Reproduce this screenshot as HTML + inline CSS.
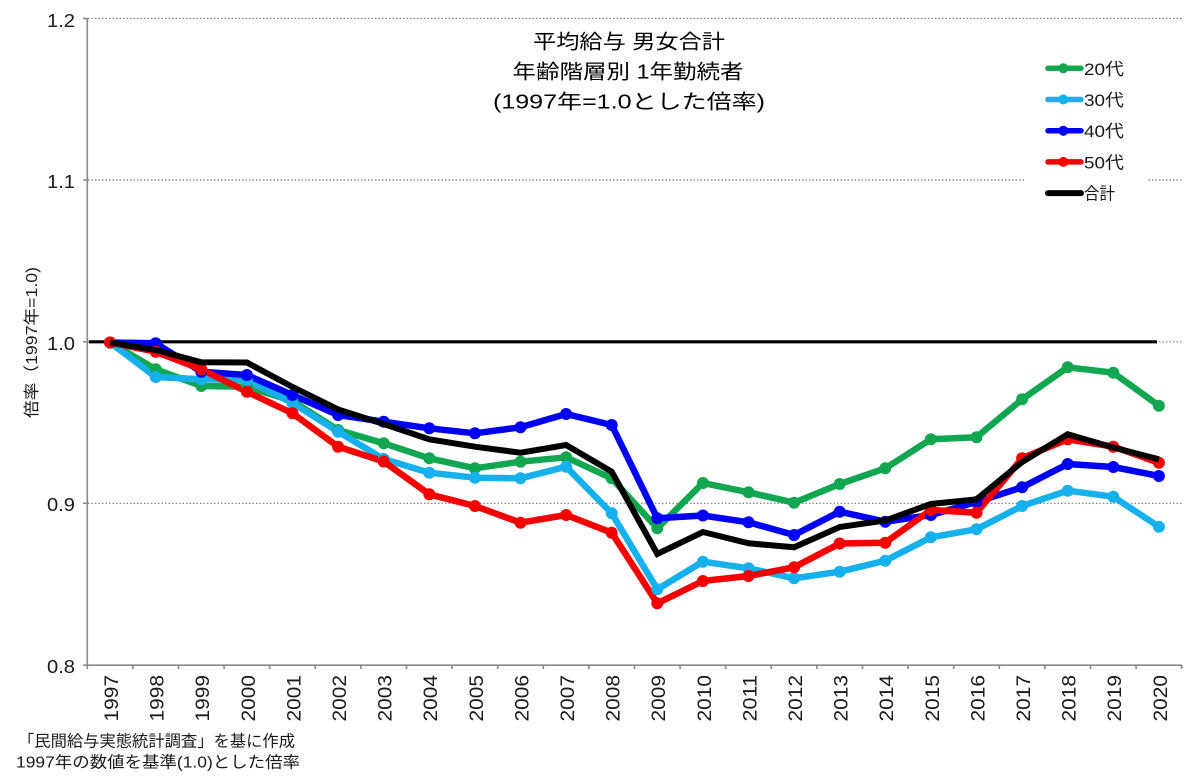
<!DOCTYPE html>
<html><head><meta charset="utf-8"><style>
html,body{margin:0;padding:0;background:#fff;}
svg{display:block;}
text{font-family:"Liberation Sans","Noto Sans CJK JP",sans-serif;fill:#1a1a1a;}
</style></head><body>
<svg width="1200" height="783" viewBox="0 0 1200 783" xmlns="http://www.w3.org/2000/svg">
<rect width="1200" height="783" fill="#fff"/>
<!-- gridlines -->
<g stroke="#777" stroke-width="1.2" stroke-dasharray="1.5 2">
<line x1="88" y1="18.5" x2="1182" y2="18.5"/>
<line x1="88" y1="180" x2="1182" y2="180"/>
<line x1="88" y1="341.8" x2="1182" y2="341.8"/>
<line x1="88" y1="503.3" x2="1182" y2="503.3"/>
</g>
<!-- axes -->
<g stroke="#8a8a8a" stroke-width="1.6" fill="none">
<line x1="87.3" y1="18" x2="87.3" y2="666"/>
<line x1="86.5" y1="665.2" x2="1182" y2="665.2"/>
<line x1="83" y1="18.5" x2="87.3" y2="18.5"/>
<line x1="83" y1="180" x2="87.3" y2="180"/>
<line x1="83" y1="341.8" x2="87.3" y2="341.8"/>
<line x1="83" y1="503.3" x2="87.3" y2="503.3"/>
<line x1="83" y1="665.2" x2="87.3" y2="665.2"/>
<path d="M87.3 665v4 M132.9 665v4 M178.5 665v4 M224.1 665v4 M269.7 665v4 M315.3 665v4 M360.9 665v4 M406.5 665v4 M452.1 665v4 M497.7 665v4 M543.3 665v4 M588.9 665v4 M634.5 665v4 M680.1 665v4 M725.7 665v4 M771.3 665v4 M816.9 665v4 M862.5 665v4 M908.1 665v4 M953.7 665v4 M999.3 665v4 M1044.9 665v4 M1090.5 665v4 M1136.1 665v4 M1181.7 665v4"/>
</g>
<!-- y tick labels -->
<g font-size="18" text-anchor="end">
<text x="75" y="27" textLength="28" lengthAdjust="spacingAndGlyphs">1.2</text>
<text x="75" y="188" textLength="28" lengthAdjust="spacingAndGlyphs">1.1</text>
<text x="75" y="350" textLength="28" lengthAdjust="spacingAndGlyphs">1.0</text>
<text x="75" y="511" textLength="28" lengthAdjust="spacingAndGlyphs">0.9</text>
<text x="75" y="673" textLength="28" lengthAdjust="spacingAndGlyphs">0.8</text>
</g>
<!-- y axis title -->
<text transform="translate(37,418) rotate(-90)" font-size="16" textLength="151" lengthAdjust="spacingAndGlyphs">倍率（1997年=1.0)</text>
<!-- x labels -->
<g font-size="19">
<text transform="translate(118,721.5) rotate(-90)" textLength="46.5" lengthAdjust="spacingAndGlyphs">1997</text>
<text transform="translate(163.6,721.5) rotate(-90)" textLength="46.5" lengthAdjust="spacingAndGlyphs">1998</text>
<text transform="translate(209.2,721.5) rotate(-90)" textLength="46.5" lengthAdjust="spacingAndGlyphs">1999</text>
<text transform="translate(254.8,721.5) rotate(-90)" textLength="46.5" lengthAdjust="spacingAndGlyphs">2000</text>
<text transform="translate(300.4,721.5) rotate(-90)" textLength="46.5" lengthAdjust="spacingAndGlyphs">2001</text>
<text transform="translate(346,721.5) rotate(-90)" textLength="46.5" lengthAdjust="spacingAndGlyphs">2002</text>
<text transform="translate(391.6,721.5) rotate(-90)" textLength="46.5" lengthAdjust="spacingAndGlyphs">2003</text>
<text transform="translate(437.2,721.5) rotate(-90)" textLength="46.5" lengthAdjust="spacingAndGlyphs">2004</text>
<text transform="translate(482.8,721.5) rotate(-90)" textLength="46.5" lengthAdjust="spacingAndGlyphs">2005</text>
<text transform="translate(528.4,721.5) rotate(-90)" textLength="46.5" lengthAdjust="spacingAndGlyphs">2006</text>
<text transform="translate(574,721.5) rotate(-90)" textLength="46.5" lengthAdjust="spacingAndGlyphs">2007</text>
<text transform="translate(619.6,721.5) rotate(-90)" textLength="46.5" lengthAdjust="spacingAndGlyphs">2008</text>
<text transform="translate(665.2,721.5) rotate(-90)" textLength="46.5" lengthAdjust="spacingAndGlyphs">2009</text>
<text transform="translate(710.8,721.5) rotate(-90)" textLength="46.5" lengthAdjust="spacingAndGlyphs">2010</text>
<text transform="translate(756.4,721.5) rotate(-90)" textLength="46.5" lengthAdjust="spacingAndGlyphs">2011</text>
<text transform="translate(802,721.5) rotate(-90)" textLength="46.5" lengthAdjust="spacingAndGlyphs">2012</text>
<text transform="translate(847.6,721.5) rotate(-90)" textLength="46.5" lengthAdjust="spacingAndGlyphs">2013</text>
<text transform="translate(893.2,721.5) rotate(-90)" textLength="46.5" lengthAdjust="spacingAndGlyphs">2014</text>
<text transform="translate(938.8,721.5) rotate(-90)" textLength="46.5" lengthAdjust="spacingAndGlyphs">2015</text>
<text transform="translate(984.4,721.5) rotate(-90)" textLength="46.5" lengthAdjust="spacingAndGlyphs">2016</text>
<text transform="translate(1030,721.5) rotate(-90)" textLength="46.5" lengthAdjust="spacingAndGlyphs">2017</text>
<text transform="translate(1075.6,721.5) rotate(-90)" textLength="46.5" lengthAdjust="spacingAndGlyphs">2018</text>
<text transform="translate(1121.2,721.5) rotate(-90)" textLength="46.5" lengthAdjust="spacingAndGlyphs">2019</text>
<text transform="translate(1166.8,721.5) rotate(-90)" textLength="46.5" lengthAdjust="spacingAndGlyphs">2020</text>
</g>
<!-- 1.0 reference line -->
<line x1="89" y1="341.8" x2="1157" y2="341.8" stroke="#000" stroke-width="3.2"/>
<!-- series -->
<g fill="none" stroke-width="6.5" stroke-linejoin="round" stroke-linecap="round">
<polyline stroke="#12a651" points="110.1,342.5 155.7,369.3 201.3,386 246.9,386.7 292.5,401 338.1,430 383.7,443.3 429.3,458.3 474.9,468.3 520.5,461.7 566.1,457.3 611.7,478.3 657.3,528.3 702.9,483 748.5,492.3 794.1,502.7 839.7,484 885.3,468.3 930.9,439.3 976.5,437.3 1022.1,399.3 1067.7,367.3 1113.3,372.7 1158.9,405.7"/>
<polyline stroke="#16b0ec" points="110.1,342.5 155.7,377 201.3,379.3 246.9,380 292.5,403 338.1,431.7 383.7,459 429.3,472.7 474.9,477.7 520.5,478.3 566.1,466.7 611.7,513.3 657.3,589.3 702.9,561.7 748.5,568.3 794.1,578.3 839.7,571.7 885.3,560.7 930.9,537.3 976.5,529.3 1022.1,506 1067.7,490.7 1113.3,496.7 1158.9,526.7"/>
<polyline stroke="#0000f5" points="110.1,342.5 155.7,343.3 201.3,371.7 246.9,375 292.5,395 338.1,415 383.7,421.7 429.3,428.3 474.9,433.3 520.5,427.3 566.1,414 611.7,425 657.3,518.3 702.9,515.5 748.5,522.3 794.1,535 839.7,511.7 885.3,521.7 930.9,515 976.5,502 1022.1,487.3 1067.7,464 1113.3,467 1158.9,476"/>
<polyline stroke="#f50000" points="110.1,342.5 155.7,351.7 201.3,369.3 246.9,391.7 292.5,413.3 338.1,446.7 383.7,461.5 429.3,494.3 474.9,506 520.5,522.7 566.1,515 611.7,532.7 657.3,603.3 702.9,581 748.5,576 794.1,567.3 839.7,543.5 885.3,542.7 930.9,510 976.5,512.7 1022.1,458.3 1067.7,439.3 1113.3,446.7 1158.9,462.7"/>
</g>
<g fill="#12a651">
<circle cx="110.1" cy="342.5" r="6"/><circle cx="155.7" cy="369.3" r="6"/><circle cx="201.3" cy="386" r="6"/><circle cx="246.9" cy="386.7" r="6"/><circle cx="292.5" cy="401" r="6"/><circle cx="338.1" cy="430" r="6"/><circle cx="383.7" cy="443.3" r="6"/><circle cx="429.3" cy="458.3" r="6"/><circle cx="474.9" cy="468.3" r="6"/><circle cx="520.5" cy="461.7" r="6"/><circle cx="566.1" cy="457.3" r="6"/><circle cx="611.7" cy="478.3" r="6"/><circle cx="657.3" cy="528.3" r="6"/><circle cx="702.9" cy="483" r="6"/><circle cx="748.5" cy="492.3" r="6"/><circle cx="794.1" cy="502.7" r="6"/><circle cx="839.7" cy="484" r="6"/><circle cx="885.3" cy="468.3" r="6"/><circle cx="930.9" cy="439.3" r="6"/><circle cx="976.5" cy="437.3" r="6"/><circle cx="1022.1" cy="399.3" r="6"/><circle cx="1067.7" cy="367.3" r="6"/><circle cx="1113.3" cy="372.7" r="6"/><circle cx="1158.9" cy="405.7" r="6"/>
</g>
<g fill="#16b0ec">
<circle cx="110.1" cy="342.5" r="6"/><circle cx="155.7" cy="377" r="6"/><circle cx="201.3" cy="379.3" r="6"/><circle cx="246.9" cy="380" r="6"/><circle cx="292.5" cy="403" r="6"/><circle cx="338.1" cy="431.7" r="6"/><circle cx="383.7" cy="459" r="6"/><circle cx="429.3" cy="472.7" r="6"/><circle cx="474.9" cy="477.7" r="6"/><circle cx="520.5" cy="478.3" r="6"/><circle cx="566.1" cy="466.7" r="6"/><circle cx="611.7" cy="513.3" r="6"/><circle cx="657.3" cy="589.3" r="6"/><circle cx="702.9" cy="561.7" r="6"/><circle cx="748.5" cy="568.3" r="6"/><circle cx="794.1" cy="578.3" r="6"/><circle cx="839.7" cy="571.7" r="6"/><circle cx="885.3" cy="560.7" r="6"/><circle cx="930.9" cy="537.3" r="6"/><circle cx="976.5" cy="529.3" r="6"/><circle cx="1022.1" cy="506" r="6"/><circle cx="1067.7" cy="490.7" r="6"/><circle cx="1113.3" cy="496.7" r="6"/><circle cx="1158.9" cy="526.7" r="6"/>
</g>
<g fill="#0000f5">
<circle cx="110.1" cy="342.5" r="6"/><circle cx="155.7" cy="343.3" r="6"/><circle cx="201.3" cy="371.7" r="6"/><circle cx="246.9" cy="375" r="6"/><circle cx="292.5" cy="395" r="6"/><circle cx="338.1" cy="415" r="6"/><circle cx="383.7" cy="421.7" r="6"/><circle cx="429.3" cy="428.3" r="6"/><circle cx="474.9" cy="433.3" r="6"/><circle cx="520.5" cy="427.3" r="6"/><circle cx="566.1" cy="414" r="6"/><circle cx="611.7" cy="425" r="6"/><circle cx="657.3" cy="518.3" r="6"/><circle cx="702.9" cy="515.5" r="6"/><circle cx="748.5" cy="522.3" r="6"/><circle cx="794.1" cy="535" r="6"/><circle cx="839.7" cy="511.7" r="6"/><circle cx="885.3" cy="521.7" r="6"/><circle cx="930.9" cy="515" r="6"/><circle cx="976.5" cy="502" r="6"/><circle cx="1022.1" cy="487.3" r="6"/><circle cx="1067.7" cy="464" r="6"/><circle cx="1113.3" cy="467" r="6"/><circle cx="1158.9" cy="476" r="6"/>
</g>
<g fill="#f50000">
<circle cx="110.1" cy="342.5" r="6"/><circle cx="155.7" cy="351.7" r="6"/><circle cx="201.3" cy="369.3" r="6"/><circle cx="246.9" cy="391.7" r="6"/><circle cx="292.5" cy="413.3" r="6"/><circle cx="338.1" cy="446.7" r="6"/><circle cx="383.7" cy="461.5" r="6"/><circle cx="429.3" cy="494.3" r="6"/><circle cx="474.9" cy="506" r="6"/><circle cx="520.5" cy="522.7" r="6"/><circle cx="566.1" cy="515" r="6"/><circle cx="611.7" cy="532.7" r="6"/><circle cx="657.3" cy="603.3" r="6"/><circle cx="702.9" cy="581" r="6"/><circle cx="748.5" cy="576" r="6"/><circle cx="794.1" cy="567.3" r="6"/><circle cx="839.7" cy="543.5" r="6"/><circle cx="885.3" cy="542.7" r="6"/><circle cx="930.9" cy="510" r="6"/><circle cx="976.5" cy="512.7" r="6"/><circle cx="1022.1" cy="458.3" r="6"/><circle cx="1067.7" cy="439.3" r="6"/><circle cx="1113.3" cy="446.7" r="6"/><circle cx="1158.9" cy="462.7" r="6"/>
</g>
<polyline fill="none" stroke="#000" stroke-width="6" stroke-linejoin="miter" stroke-linecap="butt" points="110.1,342.5 155.7,350 201.3,362.3 246.9,362.5 292.5,387 338.1,409.5 383.7,424 429.3,439.3 474.9,446.7 520.5,452.7 566.1,445 611.7,471.7 657.3,554 702.9,532 748.5,543.3 794.1,547.3 839.7,527 885.3,520.5 930.9,504 976.5,499.3 1022.1,462 1067.7,434.3 1113.3,447.5 1158.9,459.3"/>
<!-- title -->
<g font-size="20" text-anchor="middle" style="fill:#000">
<text x="629" y="48.3" textLength="192" lengthAdjust="spacingAndGlyphs" style="fill:#000">平均給与 男女合計</text>
<text x="628" y="78.3" textLength="231" lengthAdjust="spacingAndGlyphs" style="fill:#000">年齢階層別 1年勤続者</text>
<text x="629" y="108.5" textLength="272" lengthAdjust="spacingAndGlyphs" style="fill:#000">(1997年=1.0とした倍率)</text>
</g>
<!-- legend -->
<rect x="1025" y="48" width="122" height="162" fill="#fff"/>
<g stroke-width="5.5" stroke-linecap="round">
<line x1="1048" y1="68.3" x2="1081" y2="68.3" stroke="#12a651"/>
<line x1="1048" y1="99.5" x2="1081" y2="99.5" stroke="#16b0ec"/>
<line x1="1048" y1="130.7" x2="1081" y2="130.7" stroke="#0000f5"/>
<line x1="1048" y1="161.9" x2="1081" y2="161.9" stroke="#f50000"/>
<line x1="1048" y1="193.1" x2="1081" y2="193.1" stroke="#000" stroke-width="6"/>
</g>
<circle cx="1063.3" cy="68.3" r="5" fill="#12a651"/>
<circle cx="1063.3" cy="99.5" r="5" fill="#16b0ec"/>
<circle cx="1063.3" cy="130.7" r="5" fill="#0000f5"/>
<circle cx="1063.3" cy="161.9" r="5" fill="#f50000"/>
<g font-size="17">
<text x="1084" y="74.8" textLength="40" lengthAdjust="spacingAndGlyphs">20代</text>
<text x="1084" y="106" textLength="40" lengthAdjust="spacingAndGlyphs">30代</text>
<text x="1084" y="137.2" textLength="40" lengthAdjust="spacingAndGlyphs">40代</text>
<text x="1084" y="168.4" textLength="40" lengthAdjust="spacingAndGlyphs">50代</text>
<text x="1084" y="199.6" textLength="31" lengthAdjust="spacingAndGlyphs">合計</text>
</g>
<!-- footnotes -->
<g font-size="16">
<text x="18" y="746.7" textLength="277" lengthAdjust="spacingAndGlyphs">「民間給与実態統計調査」を基に作成</text>
<text x="16" y="767.5" textLength="284" lengthAdjust="spacingAndGlyphs">1997年の数値を基準(1.0)とした倍率</text>
</g>
</svg>
</body></html>
